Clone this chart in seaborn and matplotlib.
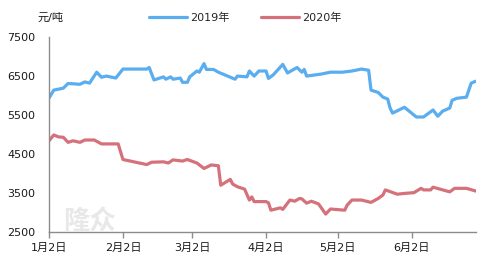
import matplotlib
matplotlib.use("Agg")
import matplotlib.pyplot as plt
import matplotlib.dates as mdates
from matplotlib.ticker import FuncFormatter, FixedLocator
from matplotlib.lines import Line2D
import seaborn as sns
import pandas as pd

series_names = ["2019年", "2020年"]
series_colors = ["#5AADEE", "#D5717B"]

dates_2019 = ["01-02", "01-04", "01-08", "01-10", "01-15", "01-17", "01-19", "01-22", "01-24", "01-26",
              "01-30", "02-02", "02-12", "02-13", "02-15", "02-19", "02-20", "02-22", "02-23", "02-26",
              "02-27", "02-29", "03-01", "03-04", "03-05", "03-07", "03-08", "03-11", "03-13", "03-20",
              "03-21", "03-25", "03-26", "03-28", "03-30", "04-02", "04-03", "04-05", "04-09", "04-11",
              "04-15", "04-17", "04-18", "04-19", "04-25", "04-29", "05-04", "05-08", "05-12", "05-15",
              "05-16", "05-19", "05-21", "05-23", "05-24", "05-25", "05-30", "06-04", "06-07", "06-11",
              "06-13", "06-15", "06-18", "06-19", "06-21", "06-25", "06-27", "06-29"]
values_2019 = [5936, 6140, 6190, 6310, 6290, 6350, 6320, 6600, 6470, 6500,
               6450, 6680, 6680, 6720, 6400, 6480, 6420, 6480, 6420, 6450,
               6340, 6340, 6480, 6630, 6600, 6820, 6670, 6670, 6600, 6420,
               6500, 6480, 6630, 6500, 6630, 6630, 6440, 6530, 6800, 6580,
               6720, 6600, 6670, 6500, 6550, 6600, 6600, 6630, 6680, 6650,
               6140, 6080, 5960, 5910, 5680, 5550, 5700, 5450, 5450, 5630,
               5470, 5600, 5680, 5880, 5930, 5960, 6320, 6370]

dates_2020 = ["01-02", "01-04", "01-06", "01-08", "01-10", "01-12", "01-15", "01-17", "01-21", "01-24",
              "01-31", "02-02", "02-12", "02-14", "02-19", "02-21", "02-23", "02-27", "02-29", "03-04",
              "03-07", "03-10", "03-13", "03-14", "03-18", "03-19", "03-21", "03-24", "03-26", "03-27",
              "03-28", "04-02", "04-03", "04-04", "04-08", "04-09", "04-12", "04-14", "04-16", "04-17",
              "04-19", "04-21", "04-24", "04-27", "04-29", "05-05", "05-06", "05-08", "05-12", "05-16",
              "05-19", "05-21", "05-22", "05-27", "05-30", "06-03", "06-06", "06-07", "06-10", "06-11",
              "06-18", "06-20", "06-25", "06-29"]
values_2020 = [4840, 4990, 4940, 4930, 4800, 4840, 4800, 4860, 4860, 4760,
               4760, 4360, 4230, 4290, 4300, 4270, 4350, 4320, 4360, 4270,
               4130, 4220, 4200, 3700, 3850, 3730, 3660, 3600, 3320, 3400,
               3280, 3280, 3250, 3060, 3120, 3080, 3320, 3290, 3360, 3350,
               3240, 3290, 3220, 2960, 3090, 3060, 3190, 3320, 3320, 3260,
               3360, 3450, 3580, 3470, 3490, 3510, 3620, 3580, 3580, 3650,
               3530, 3620, 3620, 3550]

y_ticks = [2500, 3500, 4500, 5500, 6500, 7500]
x_tick_dates = ["01-02", "02-02", "03-02", "04-02", "05-02", "06-02"]
y_unit = "元/吨"
watermark = "隆众"

df = pd.concat([
    pd.DataFrame({"date": pd.to_datetime(["2020-" + d for d in dates_2019]),
                  "value": values_2019, "series": series_names[0]}),
    pd.DataFrame({"date": pd.to_datetime(["2020-" + d for d in dates_2020]),
                  "value": values_2020, "series": series_names[1]}),
], ignore_index=True)

sns.set_theme(style="white")
plt.rcParams["font.family"] = ["DejaVu Sans", "Noto Sans CJK SC"]

fig = plt.figure(figsize=(4.91, 2.65), dpi=100)
ax = fig.add_axes([0.0998, 0.1245, 0.8696, 0.7355])

# faint watermark, kept clear of the tick labels
fig.text(0.128, 0.135, watermark, fontsize=19, color="#E8E8E8", family=["Noto Sans CJK SC"],
         fontweight="bold", zorder=0)

sns.lineplot(data=df, x="date", y="value", hue="series", palette=series_colors,
             hue_order=series_names, linewidth=2.3, ax=ax, legend=False)

ax.set_ylim(y_ticks[0], y_ticks[-1])
ax.set_yticks(y_ticks)
ax.set_xlim(df["date"].min(), df["date"].max())
ax.xaxis.set_major_locator(FixedLocator(mdates.date2num(pd.to_datetime(["2020-" + d for d in x_tick_dates]))))
ax.xaxis.set_major_formatter(FuncFormatter(lambda v, p: f"{mdates.num2date(v).month}月{mdates.num2date(v).day}日"))
ax.set_xlabel("")
ax.set_ylabel("")
ax.patch.set_alpha(0)

for s in ["top", "right"]:
    ax.spines[s].set_visible(False)
for s in ["left", "bottom"]:
    ax.spines[s].set_color("#8C8C8C")
    ax.spines[s].set_linewidth(1.0)

ax.tick_params(axis="x", direction="out", length=4, width=1, color="#8C8C8C", pad=4,
               labelsize=8, labelcolor="#1a1a1a", bottom=True)
ax.tick_params(axis="y", length=0, pad=10, labelsize=8, labelcolor="#1a1a1a")

fig.text(0.077, 0.932, y_unit, fontsize=8, ha="left", va="center", color="#1a1a1a")

handles = [Line2D([0], [0], color=c, lw=2.3) for c in series_colors]
fig.legend(handles, series_names, loc="center", bbox_to_anchor=(0.50, 0.932), ncol=2,
           frameon=False, fontsize=8, handlelength=3.4, handletextpad=0.3, columnspacing=2.8,
           borderaxespad=0)

fig.savefig("out.png", dpi=100)
